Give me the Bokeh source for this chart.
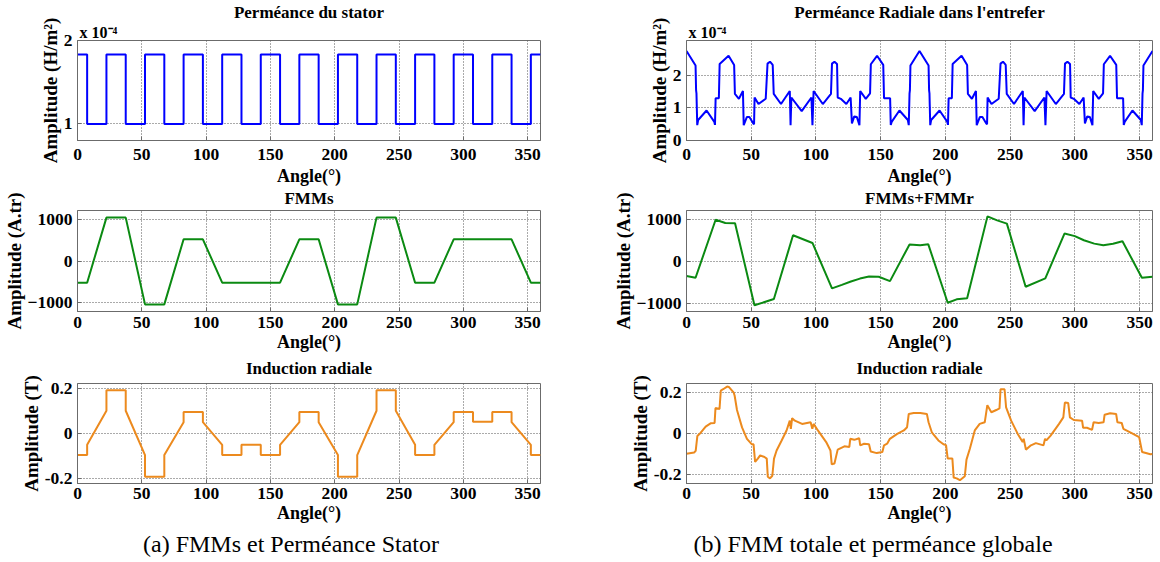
from bokeh.plotting import figure
from bokeh.layouts import row, column
from bokeh.models import Div, Title, FixedTicker, Range1d
from bokeh.embed import file_html
from bokeh.resources import INLINE

FONT = "Liberation Serif"

# ---------------- data ----------------
angle_ticks = [0, 50, 100, 150, 200, 250, 300, 350]

# (a) stator permeance (x1e-4 H/m2), step "after"
perm_s_x = [0, 7.5, 22.5, 37.5, 52.5, 67.5, 82.5, 97.5, 112.5, 127.5, 142.5, 157.5, 172.5,
            187.5, 202.5, 217.5, 232.5, 247.5, 262.5, 277.5, 292.5, 307.5, 322.5, 337.5, 352.5, 360]
perm_s_y = [1.83, 0.99, 1.83, 0.99, 1.83, 0.99, 1.83, 0.99, 1.83, 0.99, 1.83, 0.99, 1.83,
            0.99, 1.83, 0.99, 1.83, 0.99, 1.83, 0.99, 1.83, 0.99, 1.83, 0.99, 1.83, 1.83]

# (a) stator MMF (A.tr)
fmms_x = [0, 7.5, 22.5, 37.5, 52.5, 67.5, 82.5, 97.5, 112.5, 157.5, 172.5, 187.5, 202.5,
          217.5, 232.5, 247.5, 262.5, 277.5, 292.5, 337.5, 352.5, 360]
fmms_y = [-520, -520, 1040, 1040, -1040, -1040, 520, 520, -520, -520, 520, 520, -1040,
          -1040, 1040, 1040, -520, -520, 520, 520, -520, -520]

# (a) radial induction (T)
ind_s_x = [0, 7.5, 7.5, 22.5, 22.5, 37.5, 37.5, 52.5, 52.5, 67.5, 67.5, 82.5, 82.5, 97.5, 97.5,
           112.5, 112.5, 127.5, 127.5, 142.5, 142.5, 157.5, 157.5, 172.5, 172.5, 187.5, 187.5,
           202.5, 202.5, 217.5, 217.5, 232.5, 232.5, 247.5, 247.5, 262.5, 262.5, 277.5, 277.5,
           292.5, 292.5, 307.5, 307.5, 322.5, 322.5, 337.5, 337.5, 352.5, 352.5, 360]
ind_s_y = [-0.095, -0.095, -0.05, 0.10, 0.19, 0.19, 0.10, -0.095, -0.19, -0.19, -0.095, 0.05,
           0.095, 0.095, 0.05, -0.05, -0.095, -0.095, -0.05, -0.05, -0.095, -0.095, -0.05, 0.05,
           0.095, 0.095, 0.05, -0.095, -0.19, -0.19, -0.095, 0.10, 0.19, 0.19, 0.10, -0.05,
           -0.095, -0.095, -0.05, 0.05, 0.095, 0.095, 0.052, 0.052, 0.095, 0.095, 0.05, -0.05,
           -0.095, -0.095]

# (b) radial air-gap permeance (x1e-4 H/m2)
perm_r_x = [0, 7.0, 7.4, 7.7, 8.3, 9.0, 15.5, 21.5, 22.0, 22.5, 25.0, 25.6, 32.5, 36.8, 37.4,
            40.5, 43.6, 44.2, 46.6, 48.6, 51.6, 52.2, 52.6, 55.6, 61.2, 62.6, 64.5, 66.6, 67.4,
            73.0, 79.8, 80.4, 81.0, 89.0, 96.5, 97.3, 98.2, 105.3, 111.6, 112.4, 114.3, 116.3,
            116.8, 119.2, 123.5, 126.8, 127.8, 129.6, 131.6, 133.6, 134.2, 138.5, 141.8, 142.4,
            147.2, 152.0, 152.6, 157.3, 157.8, 158.5, 164.5, 171.0, 171.7, 172.3, 172.6, 173.0,
            180, 187.0, 187.4, 187.7, 188.3, 189.0, 195.5, 201.5, 202.0, 202.5, 205.0, 205.6,
            212.5, 216.8, 217.4, 220.5, 223.6, 224.2, 226.6, 228.6, 231.6, 232.2, 232.6, 235.6,
            241.2, 242.6, 244.5, 246.6, 247.4, 253.0, 259.8, 260.4, 261.0, 269.0, 276.5, 277.3,
            278.2, 285.3, 291.6, 292.4, 294.3, 296.3, 296.8, 299.2, 303.5, 306.8, 307.8, 309.6,
            311.6, 313.6, 314.2, 318.5, 321.8, 322.4, 327.2, 332.0, 332.6, 337.3, 337.8, 338.5,
            344.5, 351.0, 351.7, 352.3, 352.6, 353.0, 360]
perm_r_y = [2.75, 2.30, 1.55, 1.45, 0.47, 0.63, 0.92, 0.57, 0.48, 1.30, 1.30, 2.35, 2.60, 2.32,
            1.43, 1.28, 1.52, 0.47, 0.72, 0.72, 0.52, 0.50, 1.32, 1.12, 1.28, 2.36, 2.42, 2.32,
            1.43, 1.12, 1.52, 0.47, 1.32, 0.90, 1.32, 0.47, 1.52, 1.12, 1.43, 2.36, 2.42, 2.35,
            1.32, 1.28, 1.12, 1.32, 0.52, 0.74, 0.72, 0.47, 1.52, 1.28, 1.45, 2.34, 2.60, 2.32,
            1.30, 1.30, 0.48, 0.57, 0.92, 0.63, 0.47, 1.45, 1.55, 2.30,
            2.75, 2.30, 1.55, 1.45, 0.47, 0.63, 0.92, 0.57, 0.48, 1.30, 1.30, 2.35, 2.60, 2.32,
            1.43, 1.28, 1.52, 0.47, 0.72, 0.72, 0.52, 0.50, 1.32, 1.12, 1.28, 2.36, 2.42, 2.32,
            1.43, 1.12, 1.52, 0.47, 1.32, 0.90, 1.32, 0.47, 1.52, 1.12, 1.43, 2.36, 2.42, 2.35,
            1.32, 1.28, 1.12, 1.32, 0.52, 0.74, 0.72, 0.47, 1.52, 1.28, 1.45, 2.34, 2.60, 2.32,
            1.30, 1.30, 0.48, 0.57, 0.92, 0.63, 0.47, 1.45, 1.55, 2.30, 2.75]

# (b) total MMF (A.tr)
fmmt_x = [0, 7.0, 22.5, 30, 37.5, 52.5, 67.5, 82.3, 97.3, 112.4, 120, 127, 134, 141, 148.5,
          157.2, 172.3, 180.5, 186.8, 201.8, 208.7, 216.8, 232.5, 240, 247.5, 262, 277.2, 292,
          300, 307, 315, 322, 329.5, 336.8, 351.8, 360]
fmmt_y = [-350, -390, 1004, 924, 920, -1050, -900, 630, 446, -645, -560, -480, -410, -362, -367,
          -470, 410, 388, 412, -990, -908, -884, 1084, 988, 910, -605, -406, 672, 610, 510, 430,
          390, 425, 486, -390, -365]

# (b) radial induction (T)
ind_r_x = [0, 5.9, 7.1, 8.4, 11, 14.8, 18.6, 21.7, 22.4, 25.5, 26.5, 28.3, 31.4, 32.7, 36.5,
           37.2, 39, 42.9, 46.7, 50.5, 51.8, 53, 55.1, 56.9, 60.2, 62, 62.8, 64.5, 66.3, 67.6,
           69.6, 73.5, 77.3, 79.8, 80.6, 81.6, 83.7, 89.3, 95.9, 97.2, 98.2, 101.5, 107.9, 111.2,
           112.2, 114.3, 116.8, 122, 125.8, 126.5, 129.6, 133.4, 134.2, 137.2, 141, 142.3, 147,
           151.3, 152.6, 155, 157.1, 162.8, 167.9, 170.4, 171.7, 175.5, 180.6, 185.7, 187, 189.5,
           194.6, 198.5, 200.5, 201.8, 205.4, 206.4, 208.7, 211.2, 215, 216.3, 218.9, 222.7,
           226.5, 230.4, 232.4, 235.5, 239.3, 241.8, 242.6, 245.7, 246.9, 250.8, 255.9, 259.7,
           260.5, 262.2, 266.1, 269.9, 275.8, 277, 278, 281.3, 287.8, 291.1, 292.3, 294.9, 296.2,
           299.2, 305.6, 306.4, 309.4, 313.3, 314.5, 318.4, 322.2, 323, 327.3, 331.9, 332.9,
           336.2, 337.5, 343.9, 349.7, 352, 358.4, 360]
ind_r_y = [-0.099, -0.093, -0.085, -0.012, 0.004, 0.034, 0.050, 0.052, 0.125, 0.120, 0.210,
           0.217, 0.230, 0.228, 0.200, 0.185, 0.115, 0.030, -0.026, -0.053, -0.053, -0.139,
           -0.123, -0.107, -0.115, -0.123, -0.212, -0.220, -0.207, -0.123, -0.083, -0.034, 0.015,
           0.063, 0.023, 0.075, 0.063, 0.047, 0.055, 0.023, 0.047, 0.015, -0.042, -0.083, -0.151,
           -0.147, -0.079, -0.063, -0.066, -0.026, -0.031, -0.023, -0.058, -0.050, -0.053,
           -0.088, -0.096, -0.091, -0.058, -0.050, -0.026, -0.002, 0.015, 0.031, 0.096, 0.100,
           0.100, 0.096, 0.055, 0.006, -0.034, -0.053, -0.057, -0.123, -0.123, -0.216, -0.220,
           -0.229, -0.209, -0.128, -0.075, 0.015, 0.047, 0.055, 0.139, 0.104, 0.115, 0.123,
           0.217, 0.217, 0.128, 0.063, -0.002, -0.042, -0.026, -0.079, -0.058, -0.047, -0.058,
           -0.026, -0.034, -0.010, 0.047, 0.079, 0.152, 0.149, 0.079, 0.066, 0.063, 0.028, 0.028,
           0.018, 0.055, 0.052, 0.055, 0.092, 0.099, 0.096, 0.055, 0.052, 0.023, 0.002, -0.018,
           -0.091, -0.102, -0.100]

BLUE = "#0000FF"
GREEN = "#0B8A12"
ORANGE = "#EC8A1E"


def make_fig(title, ylabel, yr, yticks, width, height, bl, br, bt, bb, labels=None,
             exp_label=False, title_standoff=0, valign="bottom", tick_so=6, lab_so=2):
    p = figure(width=width, height=height, x_range=Range1d(0, 360), y_range=Range1d(*yr),
               output_backend="svg", toolbar_location=None, title=None,
               min_border_left=bl, min_border_right=br, min_border_top=bt, min_border_bottom=bb)
    if exp_label:
        p.add_layout(Title(text="x 10⁻⁴", align="left", text_font=FONT, text_font_style="bold",
                           text_font_size="16px", text_color="black", standoff=0, offset=2), "above")
    p.add_layout(Title(text=title, align="center", text_font=FONT, text_font_style="bold",
                       text_font_size="17px", text_color="black", standoff=title_standoff,
                       vertical_align=valign), "above")
    p.outline_line_color = "#6b6b6b"
    p.outline_line_alpha = 1.0
    p.background_fill_color = "white"
    p.border_fill_color = "white"
    p.xaxis.ticker = FixedTicker(ticks=angle_ticks)
    p.yaxis.ticker = FixedTicker(ticks=yticks)
    if labels:
        p.yaxis.major_label_overrides = labels
    p.xaxis.axis_label = "Angle(°)"
    p.yaxis.axis_label = ylabel
    for ax in (p.xaxis, p.yaxis):
        ax.axis_label_text_font = FONT
        ax.axis_label_text_font_style = "bold"
        ax.axis_label_text_color = "black"
        ax.major_label_text_font = FONT
        ax.major_label_text_font_style = "bold"
        ax.major_label_text_font_size = "17.5px"
        ax.major_label_text_color = "black"
        ax.major_tick_in = 4
        ax.major_tick_out = 0
        ax.minor_tick_line_color = None
        ax.axis_line_color = "#6b6b6b"
        ax.major_tick_line_color = "#6b6b6b"
    p.xaxis.axis_label_text_font_size = "18px"
    p.yaxis.axis_label_text_font_size = "19px"
    p.xaxis.major_label_standoff = tick_so
    p.xaxis.axis_label_standoff = lab_so
    p.yaxis.major_label_standoff = 5
    p.yaxis.axis_label_standoff = 0
    p.grid.grid_line_color = "#555555"
    p.grid.grid_line_dash = "1 2"
    p.grid.grid_line_width = 1
    return p


LW, LBR = 67, 32
RW, RBR = 104, 2
W = 572
CAP_STYLE = ("position:relative;top:-6px;width:572px;text-align:center;"
             "font-family:'Liberation Serif';font-size:24px;color:black;")
LAB3 = {-0.2: "-0.2", 0: "0", 0.2: "0.2"}

# ---- column (a)
p1 = make_fig("Perméance du stator", "Amplitude (H/m²)", (0.79, 2.0), [1, 2], W, 188, LW, LBR, 38, 48,
              exp_label=True, title_standoff=0, tick_so=8, lab_so=3)
p1.step(perm_s_x, perm_s_y, mode="after", line_color=BLUE, line_width=2)

p2 = make_fig("FMMs", "Amplitude (A.tr)", (-1210, 1210), [-1000, 0, 1000], W, 167, LW, LBR, 22, 44,
              title_standoff=1, valign="top", tick_so=5, lab_so=1)
p2.line(fmms_x, fmms_y, line_color=GREEN, line_width=2)

p3 = make_fig("Induction radiale", "Amplitude (T)", (-0.22, 0.22), [-0.2, 0, 0.2], W, 173, LW, LBR, 28, 45,
              labels=LAB3, title_standoff=7, valign="top", tick_so=4, lab_so=1)
p3.line(ind_s_x, ind_s_y, line_color=ORANGE, line_width=2)

cap_a = Div(text='<div style="' + CAP_STYLE + '">(a) FMMs et Perméance Stator</div>', width=W, height=28)

# ---- column (b)
p4 = make_fig("Perméance Radiale dans l'entrefer", "Amplitude (H/m²)", (0, 3.07), [0, 1, 2], W, 188,
              RW, RBR, 38, 48, exp_label=True, title_standoff=0, tick_so=8, lab_so=3)
p4.line(perm_r_x, perm_r_y, line_color=BLUE, line_width=2)

p5 = make_fig("FMMs+FMMr", "Amplitude (A.tr)", (-1200, 1225), [-1000, 0, 1000], W, 167, RW, RBR, 22, 44,
              title_standoff=1, valign="top", tick_so=5, lab_so=1)
p5.line(fmmt_x, fmmt_y, line_color=GREEN, line_width=2)

p6 = make_fig("Induction radiale", "Amplitude (T)", (-0.245, 0.245), [-0.2, 0, 0.2], W, 173, RW, RBR, 28, 45,
              labels=LAB3, title_standoff=7, valign="top", tick_so=4, lab_so=1)
p6.line(ind_r_x, ind_r_y, line_color=ORANGE, line_width=2)

cap_b = Div(text='<div style="' + CAP_STYLE + '">(b) FMM totale et perméance globale</div>', width=W, height=28)

layout = row(column(p1, p2, p3, cap_a), column(p4, p5, p6, cap_b))
open("out.html", "w").write(file_html(layout, INLINE))
